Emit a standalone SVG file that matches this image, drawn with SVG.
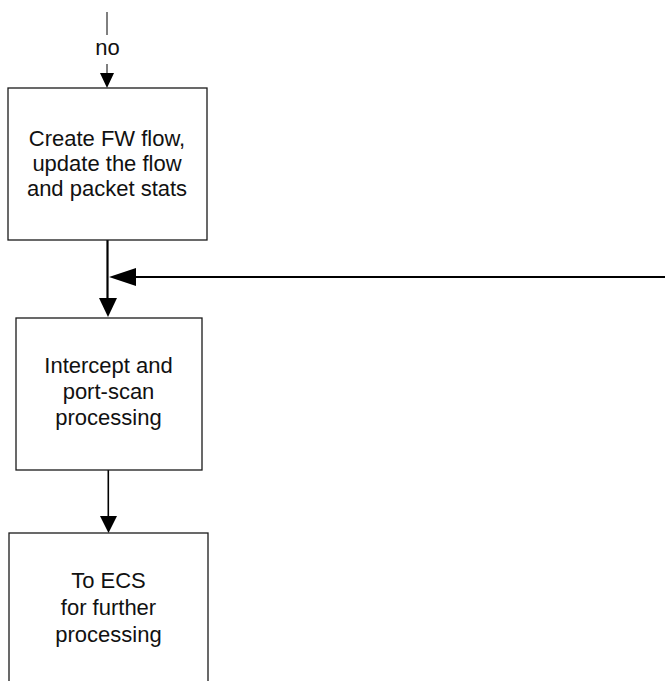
<svg xmlns="http://www.w3.org/2000/svg" width="665" height="681" viewBox="0 0 665 681">
<defs>
<style>
.box{fill:#fff;stroke:#1a1a1a;stroke-width:1.3}
.t{font-family:"Liberation Sans",Arial,sans-serif;font-size:22px;fill:#111;text-anchor:middle}
.c{fill:none;stroke:#000}
</style>
<marker id="ah" viewBox="0 0 10 10" refX="10" refY="5" markerWidth="10" markerHeight="10" markerUnits="userSpaceOnUse" orient="auto"><path d="M0,0 L10,5 L0,10 Z" fill="#000"/></marker>
</defs>
<rect width="665" height="681" fill="#fff"/>
<g id="connectors">
<line class="c" x1="107" y1="12" x2="107" y2="35" stroke-width="1"/>
<text class="t" x="107.5" y="55">no</text>
<line class="c" x1="107" y1="64" x2="107" y2="74" stroke-width="1"/>
<path d="M100,73 L114,73 L107,88 Z" fill="#000"/>
<line class="c" x1="107.5" y1="240" x2="107.5" y2="300" stroke-width="2.2"/>
<path d="M99,298 L117,298 L108,317 Z" fill="#000"/>
<line class="c" x1="134" y1="277" x2="665" y2="277" stroke-width="2.2"/>
<path d="M136,268 L136,286 L109,277 Z" fill="#000"/>
<line class="c" x1="108.3" y1="470" x2="108.3" y2="518" stroke-width="1.6"/>
<path d="M100,516 L117,516 L108.5,533 Z" fill="#000"/>
</g>
<g id="node1">
<rect class="box" x="8" y="88" width="199" height="152"/>
<text class="t" x="107" y="146">Create FW flow,</text>
<text class="t" x="107" y="171">update the flow</text>
<text class="t" x="107" y="196">and packet stats</text>
</g>
<g id="node2">
<rect class="box" x="16" y="318" width="186" height="152"/>
<text class="t" x="108.5" y="373">Intercept and</text>
<text class="t" x="108.5" y="399">port-scan</text>
<text class="t" x="108.5" y="425">processing</text>
</g>
<g id="node3">
<rect class="box" x="9" y="533" width="199" height="160"/>
<text class="t" x="108.5" y="588">To ECS</text>
<text class="t" x="108.5" y="615">for further</text>
<text class="t" x="108.5" y="642">processing</text>
</g>
</svg>
